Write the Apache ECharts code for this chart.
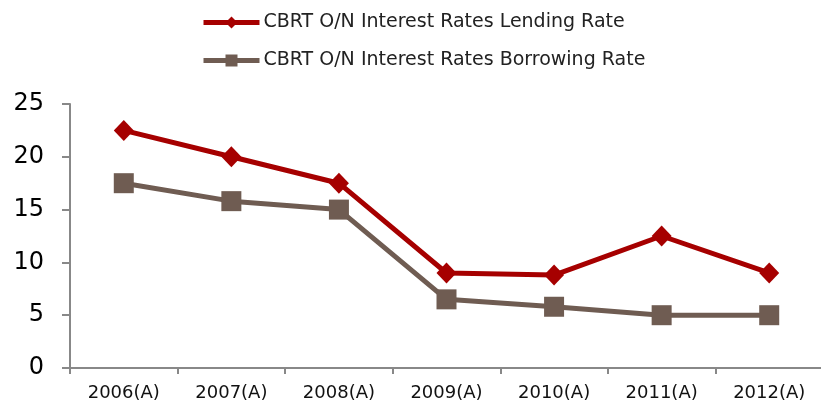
<!DOCTYPE html>
<html>
<head>
<meta charset="utf-8">
<script src="https://cdn.jsdelivr.net/npm/echarts@6/dist/echarts.min.js"></script>
<style>
  html, body { margin: 0; padding: 0; background: #fff; }
  #chart { width: 821px; height: 401px; }
</style>
</head>
<body>
<div id="chart"></div>
<script>
const categories = ['2006(A)', '2007(A)', '2008(A)', '2009(A)', '2010(A)', '2011(A)', '2012(A)'];
const lendingRate = [22.5, 20, 17.5, 9, 8.8, 12.5, 9];
const borrowingRate = [17.5, 15.8, 15, 6.5, 5.8, 5, 5];
const yTicks = [0, 5, 10, 15, 20, 25];

const chart = echarts.init(document.getElementById('chart'));

chart.setOption({
  animation: false,
  textStyle: { fontFamily: 'DejaVu Sans' },
  legend: {
    orient: 'vertical',
    left: 196,
    top: 8,
    itemWidth: 56,
    itemHeight: 15,
    itemGap: 19,
    lineStyle: { width: 5 },
    textStyle: { fontSize: 19, color: '#222', padding: [0, 0, 0, -1] },
    data: ['CBRT O/N Interest Rates Lending Rate', 'CBRT O/N Interest Rates Borrowing Rate']
  },
  grid: {
    left: 70,
    right: -2,
    top: 104,
    bottom: 33,
    outerBoundsMode: 'none',
    containLabel: false
  },
  xAxis: {
    type: 'category',
    data: categories,
    axisLine: { lineStyle: { color: '#888', width: 2 } },
    axisTick: { show: true, length: 6, lineStyle: { color: '#888', width: 2 } },
    axisLabel: { fontSize: 18, color: '#111', margin: 16 }
  },
  yAxis: {
    type: 'value',
    min: yTicks[0],
    max: yTicks[yTicks.length - 1],
    interval: 5,
    axisLine: { show: true, lineStyle: { color: '#888', width: 2 } },
    axisTick: { show: true, length: 8, lineStyle: { color: '#888', width: 2 } },
    axisLabel: { fontSize: 24, color: '#000', margin: 26 },
    splitLine: { show: false }
  },
  series: [
    {
      name: 'CBRT O/N Interest Rates Lending Rate',
      type: 'line',
      data: lendingRate,
      symbol: 'diamond',
      symbolSize: [20, 21],
      itemStyle: { color: '#A60000' },
      lineStyle: { color: '#A60000', width: 5 }
    },
    {
      name: 'CBRT O/N Interest Rates Borrowing Rate',
      type: 'line',
      data: borrowingRate,
      symbol: 'rect',
      symbolSize: 20,
      itemStyle: { color: '#6F5C52' },
      lineStyle: { color: '#6F5C52', width: 5 }
    }
  ]
});
</script>
</body>
</html>
